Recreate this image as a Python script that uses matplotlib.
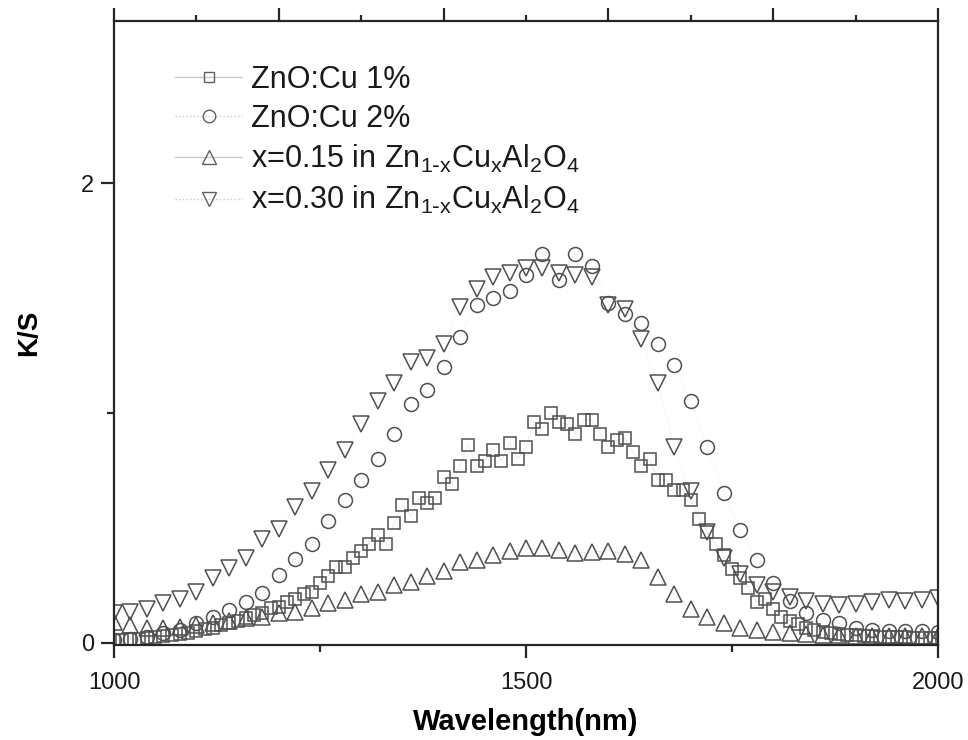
import matplotlib
matplotlib.use("Agg")
import matplotlib.pyplot as plt
from matplotlib.ticker import FixedLocator, NullFormatter
from matplotlib.lines import Line2D

plt.rcParams['font.family'] = ['Liberation Sans', 'DejaVu Sans']
plt.rcParams['mathtext.default'] = 'regular'

# ---- data ----
wl_20 = [1000, 1020, 1040, 1060, 1080, 1100, 1120, 1140, 1160, 1180,
         1200, 1220, 1240, 1260, 1280, 1300, 1320, 1340, 1360, 1380,
         1400, 1420, 1440, 1460, 1480, 1500, 1520, 1540, 1560, 1580,
         1600, 1620, 1640, 1660, 1680, 1700, 1720, 1740, 1760, 1780,
         1800, 1820, 1840, 1860, 1880, 1900, 1920, 1940, 1960, 1980, 2000]

wl_10 = [1000, 1010, 1020, 1030, 1040, 1050, 1060, 1070, 1080, 1090,
         1100, 1110, 1120, 1130, 1140, 1150, 1160, 1170, 1180, 1190,
         1200, 1210, 1220, 1230, 1240, 1250, 1260, 1270, 1280, 1290,
         1300, 1310, 1320, 1330, 1340, 1350, 1360, 1370, 1380, 1390,
         1400, 1410, 1420, 1430, 1440, 1450, 1460, 1470, 1480, 1490,
         1500, 1510, 1520, 1530, 1540, 1550, 1560, 1570, 1580, 1590,
         1600, 1610, 1620, 1630, 1640, 1650, 1660, 1670, 1680, 1690,
         1700, 1710, 1720, 1730, 1740, 1750, 1760, 1770, 1780, 1790,
         1800, 1810, 1820, 1830, 1840, 1850, 1860, 1870, 1880, 1890,
         1900, 1910, 1920, 1930, 1940, 1950, 1960, 1970, 1980, 1990, 2000]

zno_cu1 = [0.010, 0.012, 0.014, 0.016, 0.020, 0.024, 0.028, 0.033, 0.038, 0.044,
           0.050, 0.058, 0.066, 0.075, 0.085, 0.095, 0.108, 0.120, 0.130, 0.150,
           0.157, 0.178, 0.190, 0.210, 0.220, 0.260, 0.290, 0.330, 0.330, 0.370,
           0.400, 0.430, 0.470, 0.430, 0.520, 0.600, 0.550, 0.630, 0.610, 0.630,
           0.720, 0.690, 0.770, 0.860, 0.770, 0.790, 0.840, 0.790, 0.870, 0.800,
           0.850, 0.960, 0.930, 1.000, 0.960, 0.950, 0.910, 0.970, 0.970, 0.910,
           0.850, 0.880, 0.890, 0.830, 0.770, 0.800, 0.710, 0.710, 0.665, 0.665,
           0.620, 0.540, 0.480, 0.430, 0.380, 0.320, 0.280, 0.240, 0.175, 0.190,
           0.145, 0.113, 0.095, 0.080, 0.065, 0.055, 0.048, 0.042, 0.038, 0.035,
           0.032, 0.030, 0.028, 0.026, 0.025, 0.024, 0.023, 0.022, 0.021, 0.020, 0.020]

zno_cu2 = [0.010, 0.017, 0.026, 0.043, 0.057, 0.087, 0.113, 0.143, 0.178, 0.217,
           0.296, 0.365, 0.430, 0.530, 0.620, 0.710, 0.800, 0.910, 1.040, 1.100,
           1.200, 1.330, 1.470, 1.500, 1.530, 1.600, 1.690, 1.580, 1.690, 1.640,
           1.480, 1.430, 1.390, 1.300, 1.210, 1.050, 0.850, 0.650, 0.490, 0.360,
           0.260, 0.180, 0.130, 0.100, 0.087, 0.065, 0.057, 0.052, 0.052, 0.052, 0.048]

spinel_015 = [0.090, 0.075, 0.065, 0.065, 0.070, 0.078, 0.087, 0.096, 0.108, 0.113,
              0.130, 0.135, 0.150, 0.174, 0.187, 0.210, 0.220, 0.250, 0.265, 0.290,
              0.310, 0.350, 0.360, 0.380, 0.400, 0.410, 0.410, 0.405, 0.390, 0.395,
              0.400, 0.387, 0.360, 0.287, 0.210, 0.148, 0.113, 0.087, 0.065, 0.055,
              0.048, 0.043, 0.038, 0.035, 0.032, 0.030, 0.030, 0.030, 0.030, 0.030, 0.030]

spinel_030 = [0.130, 0.135, 0.148, 0.174, 0.190, 0.220, 0.280, 0.325, 0.370, 0.450,
              0.495, 0.590, 0.660, 0.750, 0.840, 0.950, 1.050, 1.130, 1.220, 1.240,
              1.300, 1.460, 1.540, 1.590, 1.610, 1.630, 1.630, 1.610, 1.600, 1.590,
              1.470, 1.450, 1.320, 1.130, 0.850, 0.660, 0.480, 0.370, 0.300, 0.250,
              0.220, 0.200, 0.180, 0.170, 0.165, 0.170, 0.175, 0.185, 0.180, 0.185, 0.195]

labels = ['ZnO:Cu 1%', 'ZnO:Cu 2%',
          r'x=0.15 in Zn$_{1\text{-}x}$Cu$_x$Al$_2$O$_4$',
          r'x=0.30 in Zn$_{1\text{-}x}$Cu$_x$Al$_2$O$_4$']

# ---- figure ----
fig = plt.figure(figsize=(9.68, 7.40), dpi=100)
W, H = 968, 740
x0, x1, ytop, ybot = 114, 938, 21, 645
ax = fig.add_axes([x0 / W, (H - ybot) / H, (x1 - x0) / W, (ybot - ytop) / H])

edge = '#505050'
linec = '#e6e6e6'
series = [
    (wl_10, zno_cu1, 's', 8.5, '-'),
    (wl_20, zno_cu2, 'o', 10, ':'),
    (wl_20, spinel_015, '^', 11, '-'),
    (wl_20, spinel_030, 'v', 11, ':'),
]
handles = []
for (xs, ys, mk, ms, ls), lab in zip(series, labels):
    ax.plot(xs, ys, linestyle=ls, color=linec, lw=0.5, zorder=1)
    ax.plot(xs, ys, linestyle='none', marker=mk, ms=ms, mfc='none',
            mec=edge, mew=1.1, zorder=2)
    handles.append(Line2D([], [], linestyle=ls, color='#c8c8c8', lw=1.0,
                          marker=mk, ms=ms * 0.9, mfc='none', mec='#606060', mew=1.0))

ax.set_xlim(1000, 2000)
ax.set_ylim(-0.01, 2.705)

spc = '#262626'
for s in ax.spines.values():
    s.set_linewidth(1.6)
    s.set_color(spc)

ax.xaxis.set_major_locator(FixedLocator([1000, 1500, 2000]))
ax.xaxis.set_minor_locator(FixedLocator([1250, 1750]))
ax.yaxis.set_major_locator(FixedLocator([0, 2]))
ax.yaxis.set_minor_locator(FixedLocator([1]))
ax.tick_params(which='both', direction='out', width=1.6, color=spc,
               labelsize=17, labelcolor='#1a1a1a', top=False, right=False)
ax.tick_params(which='major', length=9.5, pad=10)
ax.tick_params(which='minor', length=5)
ax.tick_params(axis='y', which='major', pad=5)

top = ax.twiny()
top.set_xlim(1000, 2000)
top.xaxis.set_major_locator(FixedLocator([1000, 1200, 1400, 1600, 1800, 2000]))
top.xaxis.set_minor_locator(FixedLocator([1100, 1300, 1500, 1700, 1900]))
top.xaxis.set_major_formatter(NullFormatter())
top.tick_params(which='both', direction='out', width=1.6, color=spc)
top.tick_params(which='major', length=9.5)
top.tick_params(which='minor', length=4.5)
for s in top.spines.values():
    s.set_visible(False)

ax.set_xlabel('Wavelength(nm)', fontsize=21, fontweight='bold', labelpad=10)
ax.set_ylabel('K/S', fontsize=20, fontweight='bold', labelpad=28)

leg = ax.legend(handles, labels, loc='upper left', bbox_to_anchor=(0.074, 0.93),
                frameon=False, fontsize=22, handlelength=2.2, handletextpad=0.3,
                labelspacing=0.3, borderpad=0, borderaxespad=0)
for t in leg.get_texts():
    t.set_color('#1a1a1a')

fig.savefig('out.png', dpi=100)
